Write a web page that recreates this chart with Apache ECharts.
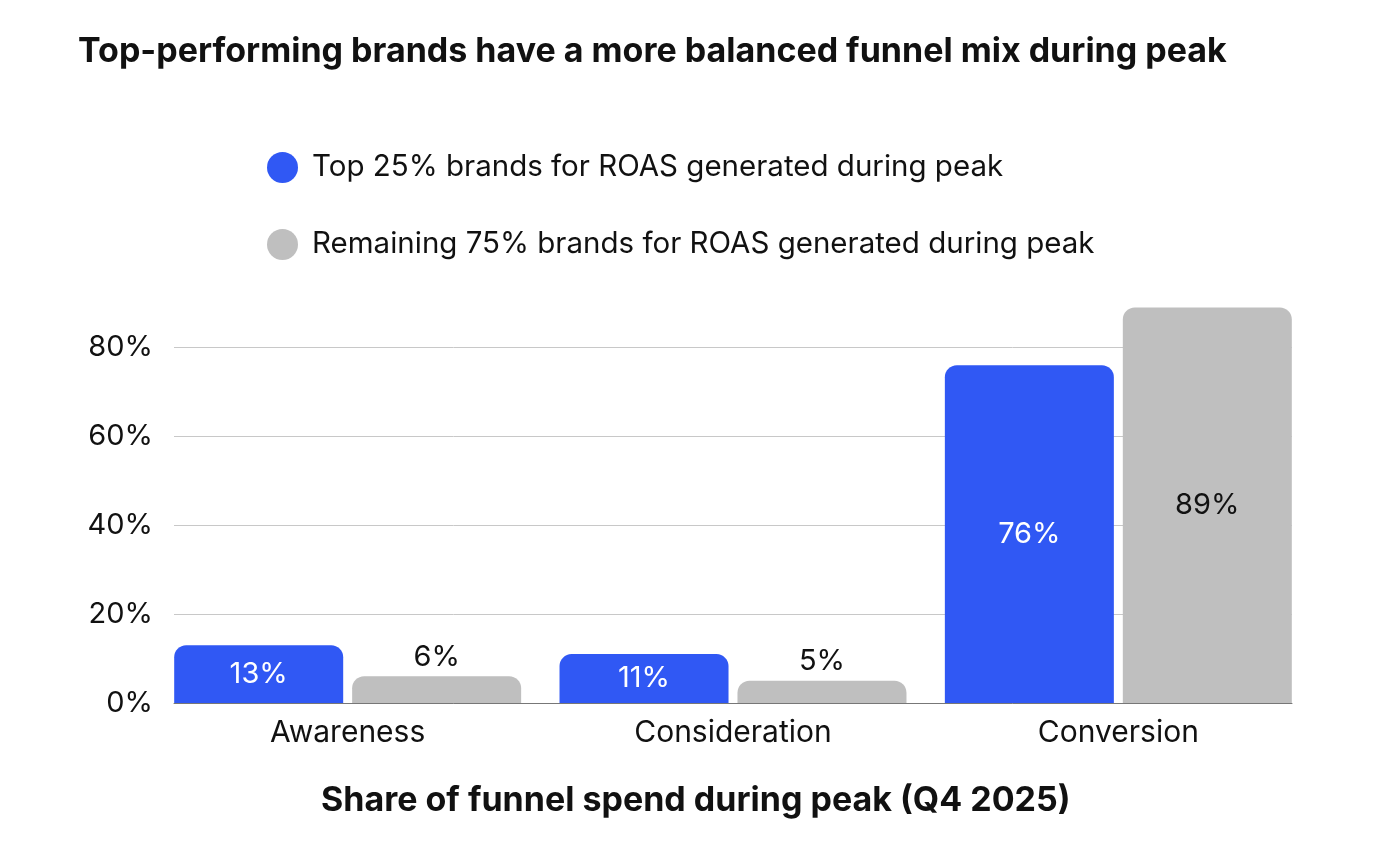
<!DOCTYPE html>
<html>
<head>
<meta charset="utf-8">
<script src="https://cdn.jsdelivr.net/npm/echarts@6/dist/echarts.min.js"></script>
<style>
html,body{margin:0;padding:0;background:#fff;}
#chart{width:1400px;height:848px;}
</style>
</head>
<body>
<div id="chart"></div>
<script>
const categories = ['Awareness', 'Consideration', 'Conversion'];
const seriesNames = ['Top 25% brands for ROAS generated during peak', 'Remaining 75% brands for ROAS generated during peak'];
const topBrands = [13, 11, 76];
const remainingBrands = [6, 5, 89];
const yTicks = [0, 20, 40, 60, 80];

const FONT = 'Inter';
const BLUE = '#3058F4';
const GRAY = '#BFBFBF';
const TXT = '#111111';

const chart = echarts.init(document.getElementById('chart'), null, {renderer: 'canvas'});

const option = {
  backgroundColor: '#ffffff',
  textStyle: {fontFamily: FONT},
  title: [
    {
      text: 'Top-performing brands have a more balanced funnel mix during peak',
      left: 73, top: 30,
      textStyle: {fontFamily: FONT, fontWeight: 'bold', fontSize: 34, color: TXT}
    },
    {
      text: 'Share of funnel spend during peak (Q4 2025)',
      left: 316, top: 779,
      textStyle: {fontFamily: FONT, fontWeight: 'bold', fontSize: 34, color: TXT}
    }
  ],
  legend: {
    orient: 'vertical',
    left: 262, top: 147,
    icon: 'circle',
    itemWidth: 31, itemHeight: 31,
    itemGap: 46,
    textStyle: {fontFamily: FONT, fontSize: 29.5, color: TXT, padding: [0, 0, 0, 9]},
    data: seriesNames
  },
  grid: [
    {left: 155, right: 89, top: 303, bottom: 145},
    {left: 174, right: 108, top: 303, bottom: 145}
  ],
  xAxis: [
    {
      type: 'category', gridIndex: 0, data: categories,
      axisLine: {show: false}, axisTick: {show: false},
      axisLabel: {fontFamily: FONT, fontSize: 30, color: TXT, margin: 15}
    },
    {
      type: 'category', gridIndex: 1, data: categories,
      axisLine: {show: true, lineStyle: {color: '#777777', width: 1}},
      axisTick: {show: false}, axisLabel: {show: false}, splitLine: {show: false}
    }
  ],
  yAxis: [
    {
      type: 'value', gridIndex: 0, min: 0, max: 90, show: false,
      splitLine: {show: false}
    },
    {
      type: 'value', gridIndex: 1, min: 0, max: 90, interval: 20,
      axisLine: {show: false}, axisTick: {show: false},
      axisLabel: {
        fontFamily: FONT, fontSize: 29, color: TXT, margin: 21,
        showMaxLabel: false,
        formatter: v => (yTicks.indexOf(v) >= 0 ? v + '%' : '')
      },
      splitLine: {show: true, showMaxLine: false, lineStyle: {color: '#C8C8C8', width: 1}}
    }
  ],
  series: [
    {
      name: seriesNames[0], type: 'bar', xAxisIndex: 0, yAxisIndex: 0,
      barWidth: 169, barGap: '5.3%',
      itemStyle: {color: BLUE, borderRadius: [12, 12, 0, 0]},
      label: {
        show: true, position: 'inside', color: '#ffffff',
        fontFamily: FONT, fontSize: 29, formatter: '{c}%'
      },
      data: topBrands
    },
    {
      name: seriesNames[1], type: 'bar', xAxisIndex: 0, yAxisIndex: 0,
      barWidth: 169, barGap: '5.3%',
      itemStyle: {color: GRAY, borderRadius: [12, 12, 0, 0]},
      label: {
        show: true, color: TXT,
        fontFamily: FONT, fontSize: 29, formatter: '{c}%', distance: 5
      },
      data: remainingBrands.map(v => ({value: v, label: {position: v < 20 ? 'top' : 'inside'}}))
    }
  ],
  animation: false
};
chart.setOption(option);
</script>
</body>
</html>
